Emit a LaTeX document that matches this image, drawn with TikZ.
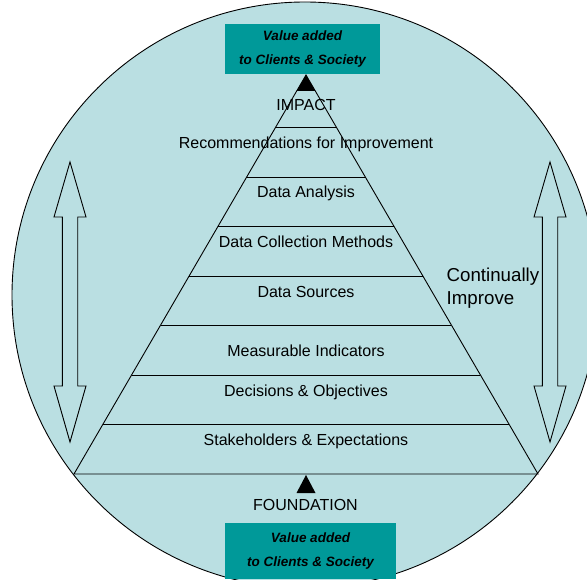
\documentclass[tikz,border=0pt]{standalone}
\usepackage{fontspec}
\setmainfont{Liberation Sans}
\definecolor{bgcyan}{RGB}{186,223,226}
\definecolor{boxteal}{RGB}{0,153,153}
\tikzset{
  level/.style={font=\fontsize{16}{19}\selectfont, inner sep=0pt, text height=11.5pt, text depth=0pt},
  valuebox/.style={fill=boxteal, font=\fontsize{13.5}{24}\selectfont\bfseries\itshape, align=center, inner sep=0pt},
  dblarrow/.style={draw=black, fill=bgcyan, line width=0.9pt, line join=miter},
  thin line/.style={draw=black, line width=0.9pt}
}
\begin{document}
\begin{tikzpicture}[x=1pt,y=-1pt]
\useasboundingbox (0,0) rectangle (587,580);
\filldraw[fill=bgcyan,thin line] (305,295) circle[radius=293];

% pyramid and its levels
\draw[thin line] (74,474) -- (306,75) -- (538,474) -- cycle;
\foreach \y in {127,177,226,276,325,375,424}
  \draw[thin line] ({306-(\y-75)*0.5815},\y) -- ({306+(\y-75)*0.5815},\y);
\fill[black] (306,75) -- ({306-16*0.5815},91) -- ({306+16*0.5815},91) -- cycle;
\fill[black] (306,475) -- (296.5,493) -- (315.5,493) -- cycle;

\node[level] (impact) at (306,105) {IMPACT};
\node[level] (recom) at (306,143) {Recommendations for Improvement};
\node[level] (analysis) at (306,192) {Data Analysis};
\node[level] (methods) at (306,242) {Data Collection Methods};
\node[level] (sources) at (306,292) {Data Sources};
\node[level] (indic) at (306,351) {Measurable Indicators};
\node[level] (decis) at (306,391) {Decisions \& Objectives};
\node[level] (stake) at (306,440) {Stakeholders \& Expectations};
\node[level] (found) at (305.5,505) {FOUNDATION};

% value boxes
\node[valuebox,minimum width=155pt,minimum height=50pt] (topbox) at (302.5,49)
  {Value added\\to Clients \& Society};
\node[valuebox,minimum width=171pt,minimum height=56pt] (botbox) at (310.5,551)
  {Value added\\to Clients \& Society};

% up/down arrows
\foreach \ax in {70,550}
  \draw[dblarrow] (\ax,162) -- (\ax+16,217) -- (\ax+7.7,217) -- (\ax+7.7,386)
    -- (\ax+16,386) -- (\ax,442) -- (\ax-16,386) -- (\ax-7.7,386)
    -- (\ax-7.7,217) -- (\ax-16,217) -- cycle;

\node[anchor=west,align=left,inner sep=0pt,font=\fontsize{18.7}{22.6}\selectfont] (improve) at (446.5,288)
  {Continually\\Improve};
\end{tikzpicture}
\end{document}
